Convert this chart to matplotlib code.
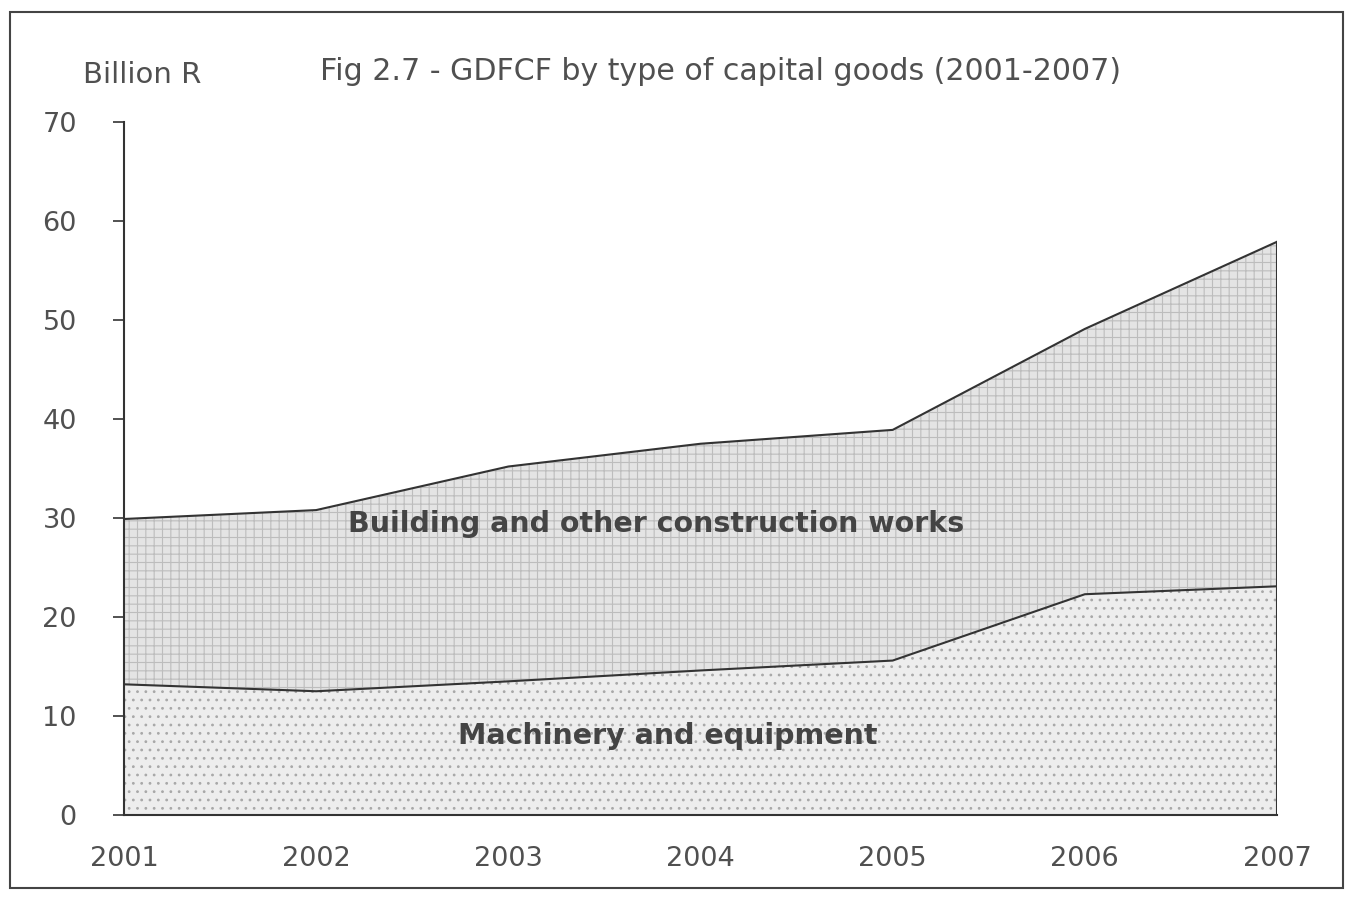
import matplotlib
matplotlib.use("Agg")
import matplotlib.pyplot as plt
from matplotlib.patches import Rectangle

years = [2001, 2002, 2003, 2004, 2005, 2006, 2007]
machinery = [13.2, 12.5, 13.5, 14.6, 15.6, 22.3, 23.1]
building = [16.7, 18.3, 21.7, 22.9, 23.3, 26.8, 34.8]
yticks = [0, 10, 20, 30, 40, 50, 60, 70]

plt.rcParams['font.family'] = ['DejaVu Sans']
plt.rcParams['hatch.linewidth'] = 0.8

W, H = 1353, 898
fig = plt.figure(figsize=(W / 100, H / 100), dpi=100)
ax = fig.add_axes([124 / W, 1 - 815 / H, (1277 - 124) / W, (815 - 122) / H])

total = [m + b for m, b in zip(machinery, building)]

ax.fill_between(years, 0, machinery, facecolor='#ededed', edgecolor='#a8a8a8',
                hatch='..', linewidth=0)
ax.fill_between(years, machinery, total, facecolor='#e4e4e4', edgecolor='#bdbdbd',
                hatch='++', linewidth=0)
ax.plot(years, machinery, color='#333333', lw=1.5)
ax.plot(years, total, color='#333333', lw=1.5)
ax.plot([years[-1], years[-1]], [0, total[-1]], color='#333333', lw=1.5)

ax.set_xlim(years[0], years[-1])
ax.set_ylim(0, 70)
ax.set_yticks(yticks)
ax.set_xticks(years)
ax.set_xticklabels([str(y) for y in years])
for s in ['top', 'right']:
    ax.spines[s].set_visible(False)
for s in ['left', 'bottom']:
    ax.spines[s].set_color('#333333')
    ax.spines[s].set_linewidth(1.5)
ax.tick_params(axis='y', direction='out', length=8, width=1.2, color='#333333',
               labelsize=19.5, labelcolor='#505050', pad=26)
ax.tick_params(axis='x', length=0, labelsize=19.5, labelcolor='#505050', pad=22)
ax.patch.set_alpha(0)

ax.text(2003.77, 29.4, 'Building and other construction works', ha='center', va='center',
        fontsize=20.5, fontweight='bold', color='#444444')
ax.text(2003.83, 8.0, 'Machinery and equipment', ha='center', va='center',
        fontsize=20.5, fontweight='bold', color='#444444')

fig.text(142 / W, 1 - 75 / H, 'Billion R', ha='center', va='center', fontsize=21, color='#505050')
fig.text(721 / W, 1 - 72 / H, 'Fig 2.7 - GDFCF by type of capital goods (2001-2007)',
         ha='center', va='center', fontsize=21.6, color='#505050')

fig.patches.append(Rectangle((10 / W, 1 - 888 / H), (1343 - 10) / W, (888 - 12) / H,
                             transform=fig.transFigure, fill=False, edgecolor='#444444',
                             linewidth=1.5))

fig.savefig('out.png', dpi=100)
